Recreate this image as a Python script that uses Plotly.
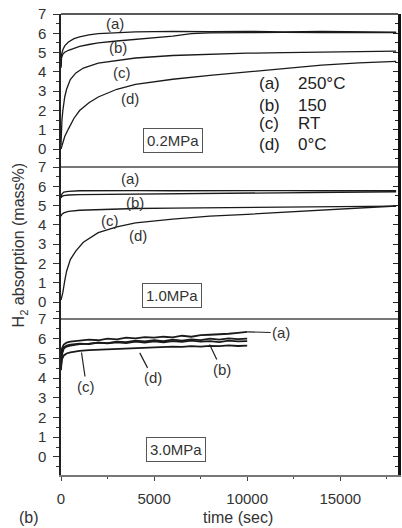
import plotly.graph_objects as go

# ---------------- data ----------------
# Panel 1 : 0.2 MPa
t_a1 = [0, 30, 100, 200, 400, 700, 1000, 1500, 2000, 3000, 4000, 6000, 8000, 10000, 12000, 14000, 16000, 18000]
a1 = [4.3, 4.9, 5.15, 5.35, 5.55, 5.72, 5.82, 5.92, 5.98, 6.04, 6.07, 6.1, 6.08, 6.1, 6.07, 6.1, 6.08, 6.06]
t_b1 = [0, 30, 100, 200, 400, 700, 1000, 1500, 2000, 3000, 4000, 5000, 6000, 7000, 8000, 10000, 12000, 14000, 16000, 18000]
b1 = [4.2, 4.75, 4.92, 5.02, 5.12, 5.22, 5.32, 5.42, 5.5, 5.6, 5.68, 5.76, 5.85, 5.98, 6.02, 6.03, 6.05, 6.03, 6.05, 6.04]
t_c1 = [0, 20, 50, 100, 200, 300, 500, 800, 1200, 2000, 3000, 4000, 6000, 8000, 10000, 12000, 14000, 16000, 18000]
c1 = [0.2, 0.9, 1.5, 2.0, 2.7, 3.1, 3.6, 3.95, 4.2, 4.45, 4.6, 4.72, 4.85, 4.92, 4.97, 5.0, 5.02, 5.05, 5.08]
t_d1 = [0, 100, 200, 400, 700, 1000, 1500, 2000, 3000, 4000, 5000, 6000, 8000, 10000, 12000, 14000, 16000, 18000]
d1 = [0.0, 0.35, 0.65, 1.05, 1.6, 2.0, 2.4, 2.7, 3.1, 3.35, 3.5, 3.62, 3.82, 4.0, 4.2, 4.35, 4.47, 4.55]

# Panel 2 : 1.0 MPa
t_a2 = [0, 50, 150, 400, 1000, 2000, 4000, 6000, 8000, 10000, 12000, 14000, 16000, 18000]
a2 = [5.4, 5.6, 5.7, 5.74, 5.77, 5.78, 5.78, 5.77, 5.78, 5.77, 5.78, 5.77, 5.77, 5.77]
t_b2 = [0, 50, 150, 400, 1000, 2000, 4000, 6000, 8000, 10000, 12000, 14000, 16000, 18000]
b2 = [5.4, 5.48, 5.52, 5.55, 5.57, 5.58, 5.6, 5.62, 5.64, 5.66, 5.68, 5.7, 5.71, 5.72]
t_c2 = [0, 50, 150, 400, 1000, 2000, 4000, 6000, 8000, 10000, 12000, 14000, 16000, 18000]
c2 = [4.45, 4.55, 4.62, 4.7, 4.76, 4.8, 4.85, 4.87, 4.89, 4.9, 4.92, 4.93, 4.95, 4.97]
t_d2 = [0, 50, 100, 200, 300, 500, 800, 1200, 2000, 3000, 4000, 6000, 8000, 10000, 12000, 14000, 16000, 18000]
d2 = [0.1, 0.3, 0.5, 1.1, 1.6, 2.2, 2.65, 3.1, 3.6, 3.9, 4.1, 4.3, 4.45, 4.55, 4.65, 4.75, 4.88, 4.98]

# Panel 3 : 3.0 MPa
t3 = [0, 50, 150, 300, 500, 1000, 1500, 2000, 2500, 3000, 3500, 4000, 4500, 5000, 5500, 6000,
      6500, 7000, 7500, 8000, 8500, 9000, 9500, 10000]
a3 = [4.9, 5.5, 5.7, 5.8, 5.85, 5.9, 5.95, 5.92, 6.0, 5.97, 6.05, 6.02, 6.08, 6.05, 6.1, 6.07,
      6.15, 6.1, 6.18, 6.2, 6.22, 6.25, 6.3, 6.35]
b3 = [4.7, 5.3, 5.55, 5.65, 5.7, 5.75, 5.72, 5.8, 5.76, 5.82, 5.78, 5.85, 5.8, 5.86, 5.82, 5.88,
      5.84, 5.9, 5.85, 5.88, 5.83, 5.9, 5.86, 5.88]
c3 = [4.4, 5.2, 5.5, 5.6, 5.65, 5.72, 5.75, 5.8, 5.78, 5.85, 5.82, 5.9, 5.86, 5.92, 5.88, 5.95,
      5.9, 5.97, 5.93, 6.0, 5.95, 6.02, 5.98, 6.0]
d3 = [4.6, 4.95, 5.15, 5.25, 5.3, 5.38, 5.42, 5.44, 5.46, 5.47, 5.49, 5.5, 5.52, 5.55, 5.57, 5.6,
      5.58, 5.62, 5.6, 5.64, 5.62, 5.66, 5.63, 5.65]

pressures = ["0.2MPa", "1.0MPa", "3.0MPa"]
curve_ids = ["(a)", "(b)", "(c)", "(d)"]
temps = ["250°C", "150", "RT", "0°C"]
x_ticks = [0, 5000, 10000, 15000]
x_tick_text = ["0", "5000", "10000", "15000"]
y_ticks = [0, 1, 2, 3, 4, 5, 6, 7]

# ---------------- figure ----------------
FONT = "Liberation Sans"
INK = "#1a1a1a"
fig = go.Figure()

panels = [
    ("y", [(t_a1, a1), (t_b1, b1), (t_c1, c1), (t_d1, d1)], 1.3),
    ("y2", [(t_a2, a2), (t_b2, b2), (t_c2, c2), (t_d2, d2)], 1.3),
    ("y3", [(t3, a3), (t3, b3), (t3, c3), (t3, d3)], 1.8),
]
for yax, series, w in panels:
    for tt, vv in series:
        fig.add_trace(go.Scatter(x=tt, y=vv, mode="lines", xaxis="x", yaxis=yax,
                                 line=dict(color=INK, width=w), showlegend=False,
                                 hoverinfo="skip"))

domains = [[0.668, 1.0], [0.3384, 0.668], [0.0, 0.3384]]
ranges = [[-0.93, 7.0], [-0.88, 7.0], [-0.92, 7.0]]

layout = dict(
    width=402, height=528,
    margin=dict(l=61, r=4, t=14, b=53, autoexpand=False),
    paper_bgcolor="white", plot_bgcolor="white",
    font=dict(family=FONT, color="#333", size=15),
    showlegend=False,
    xaxis=dict(range=[0, 18100], domain=[0, 1], anchor="y3", tickvals=x_ticks,
               ticktext=x_tick_text,
               ticks="outside", ticklen=4, tickcolor="#444", showline=True,
               linecolor="#777", linewidth=2, showgrid=False, zeroline=False,
               minor=dict(dtick=2500, ticks="outside", ticklen=2, tickcolor="#444"),
               tickfont=dict(size=15, color="#333"), ticklabelstandoff=5),
)
names = ["yaxis", "yaxis2", "yaxis3"]
mirror_names = ["yaxis4", "yaxis5", "yaxis6"]
for i in range(3):
    layout[names[i]] = dict(domain=domains[i], range=ranges[i], anchor="x",
                            tickvals=y_ticks, ticks="outside", ticklen=6,
                            tickcolor="#333", showline=True, linecolor="#222",
                            linewidth=1.5, showgrid=False, zeroline=False,
                            minor=dict(dtick=0.5, ticks="outside", ticklen=3, tickcolor="#333"),
                            tickfont=dict(size=15, color="#333"), ticklabelstandoff=4)
    layout[mirror_names[i]] = dict(domain=domains[i], range=ranges[i], anchor="x",
                                   overlaying=["y", "y2", "y3"][i], side="right",
                                   tickvals=y_ticks, ticks="inside", ticklen=5,
                                   tickcolor="#222", showticklabels=False,
                                   showline=True, linecolor="#111", linewidth=2.5,
                                   showgrid=False, zeroline=False,
                                   minor=dict(dtick=0.5, ticks="inside", ticklen=3,
                                              tickcolor="#222"))
fig.update_layout(**layout)
# invisible traces so the mirror axes are drawn
for i, ax in enumerate(["y4", "y5", "y6"]):
    fig.add_trace(go.Scatter(x=[None], y=[None], xaxis="x", yaxis=ax, showlegend=False,
                             hoverinfo="skip"))

# frame: top border and panel separators
fig.add_shape(type="line", xref="paper", yref="paper", x0=0, x1=1, y0=1, y1=1,
              line=dict(color="#222", width=1.5))
for yy in [domains[0][0], domains[1][0]]:
    fig.add_shape(type="line", xref="paper", yref="paper", x0=0, x1=1, y0=yy, y1=yy,
                  line=dict(color="#777", width=2))

ann = []
lab_font = dict(size=15, color="#333", family=FONT)
# panel 1 curve labels
for lbl, (tx, vy) in zip(curve_ids, [(2890, 6.53), (3050, 5.28), (3270, 3.99), (3690, 2.62)]):
    ann.append(dict(x=tx, y=vy, xref="x", yref="y", text=lbl, showarrow=False, font=lab_font))
# panel 2 curve labels
for lbl, (tx, vy) in zip(curve_ids, [(3690, 6.42), (3960, 5.18), (2620, 4.25), (4120, 3.47)]):
    ann.append(dict(x=tx, y=vy, xref="x", yref="y2", text=lbl, showarrow=False, font=lab_font))
# panel 3 curve labels with leader lines
for lbl, (tx, vy), (axp, ayp) in zip(curve_ids,
                                     [(10000, 6.35), (7980, 5.7), (1100, 5.3), (4230, 5.28)],
                                     [(34, 1), (12, 25), (5, 34), (13, 25)]):
    ann.append(dict(x=tx, y=vy, xref="x", yref="y3", text=lbl, showarrow=True,
                    arrowhead=0, arrowwidth=1.2, arrowcolor="#222", ax=axp, ay=ayp,
                    font=lab_font))
# temperature key
key_font = dict(size=17, color="#222", family=FONT)
for lbl, tmp, vy in zip(curve_ids, temps, [3.42, 2.28, 1.35, 0.26]):
    ann.append(dict(x=10550, y=vy, xref="x", yref="y", text=lbl, showarrow=False,
                    xanchor="left", font=key_font))
    ann.append(dict(x=12630, y=vy, xref="x", yref="y", text=tmp, showarrow=False,
                    xanchor="left", font=key_font))
# pressure boxes
for pr, yax, (tx, vy) in zip(pressures, ["y", "y2", "y3"],
                             [(6000, 0.47), (5940, 0.36), (6160, 0.36)]):
    ann.append(dict(x=tx, y=vy, xref="x", yref=yax, text=pr, showarrow=False,
                    bordercolor="#555", borderwidth=1, borderpad=3, bgcolor="white",
                    font=dict(size=15, color="#333", family=FONT)))
# axis titles and panel tag
ann.append(dict(x=-0.122, y=0.5, xref="paper", yref="paper", xanchor="center",
                text="H<sub>2</sub> absorption (mass%)", textangle=-90, showarrow=False,
                font=dict(size=16, color="#333", family=FONT)))
ann.append(dict(x=0.525, y=-0.092, xref="paper", yref="paper", yanchor="middle",
                text="time (sec)", showarrow=False,
                font=dict(size=16, color="#333", family=FONT)))
ann.append(dict(x=-0.13, y=-0.092, xref="paper", yref="paper", yanchor="middle",
                text="(b)", showarrow=False,
                font=dict(size=16, color="#333", family=FONT)))
fig.update_layout(annotations=ann)

fig.write_html("out.html", config={"displayModeBar": False},
               post_script="document.body.style.margin='0';document.body.style.padding='0';")
